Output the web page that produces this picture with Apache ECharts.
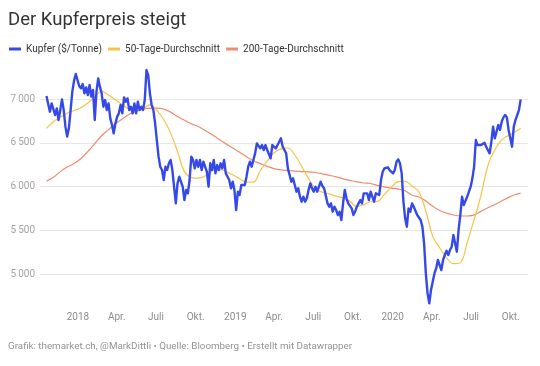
<!DOCTYPE html>
<html><head><meta charset="utf-8">
<script src="https://cdn.jsdelivr.net/npm/echarts@6/dist/echarts.min.js"></script>
<style>html,body{margin:0;padding:0;background:#fff}#c{width:540px;height:366px}</style>
</head><body><div id="c"></div>
<script>
const titleText = 'Der Kupferpreis steigt';
const footerText = 'Grafik: themarket.ch, @MarkDittli \u2022 Quelle: Bloomberg \u2022 Erstellt mit Datawrapper';
const seriesNames = ['Kupfer ($/Tonne)', '50-Tage-Durchschnitt', '200-Tage-Durchschnitt'];
const seriesColors = ['#3549e8', '#f5c444', '#f08a6e'];

// copper price readings, one every 4 days starting 2017-10-20
const firstDate = [2017, 9, 20];
const stepDays = 4;
const copper = [
7034, 7019, 6855, 6950, 6969, 6817, 6893, 6760, 6874, 6996,
6874, 6684, 6570, 6665, 6874, 7084, 7210, 7286, 7217, 7149,
7122, 7171, 7065, 7133, 7046, 7160, 7027, 7103, 6760, 7084,
7236, 7141, 7065, 6912, 6988, 6874, 6950, 6779, 6703, 6607,
6722, 6798, 6836, 6931, 6836, 7019, 6969, 7007, 6874, 6912,
6836, 6950, 6836, 6969, 6874, 6912, 6874, 6988, 7331, 7274,
7065, 6931, 6874, 6722, 6531, 6341, 6226, 6188, 6074,
6226, 6188, 6265, 6303, 6188, 5998, 5807, 6036, 6112, 6093,
5998, 5846, 5960, 5922, 6074, 6341, 6303, 6207, 6303, 6226,
6303, 6188, 6284, 6226, 6169, 5998, 6265, 6188, 6303, 6150,
6245, 6188, 6265, 6207, 6303, 6150, 6169, 6074, 5979, 6055,
5960, 5731, 5941, 5903, 6017, 6036, 6017, 6112, 6226, 6284,
6226, 6303, 6379, 6493, 6512, 6436, 6474, 6417, 6474, 6417,
6436, 6322, 6474, 6493, 6436, 6474, 6455, 6550, 6455, 6417,
6379, 6207, 6131, 6055, 6093, 6017, 5941, 5979, 5884, 5826,
5884, 5826, 5865, 5960, 6036, 5979, 5941, 5998, 5941, 5998,
6055, 6005, 5979, 5960, 5807, 5769, 5807, 5712, 5769, 5731,
5674, 5712, 5617, 5807, 5960, 5865, 5807, 5788, 5750, 5674,
5712, 5769, 5807, 5845, 5807, 5922, 5903, 5922, 5845, 5941,
5884, 5826, 5922, 5941, 5903, 6074, 6169, 6207, 6207, 6219,
6188, 6207, 6150, 6188, 6284, 6310, 6265, 6150, 5830,
5636, 5541, 5750, 5712, 5807, 5769, 5769, 5674, 5674, 5617,
5541, 5350, 5007, 4779, 4664, 4817, 4912, 5007, 5064, 5160,
5160, 5045, 5160, 5217, 5266, 5217, 5274, 5312, 5445, 5350,
5255, 5503, 5674, 5884, 5788, 5807, 5884, 5941, 5998, 6093,
6226, 6531, 6474, 6474, 6474, 6493, 6501, 6455, 6463, 6379,
6512, 6684, 6550, 6627, 6703, 6646, 6741, 6790, 6817, 6790,
6646, 6627, 6455, 6684, 6760, 6760, 6874, 6996
];

// moving averages, read at every 4th copper date plus the last one
const maEvery = 4;
const ma50 = [
6665, 6741, 6790, 6838, 6868, 6900, 6955, 7025, 7088, 7045,
6990, 6935, 6880, 6860, 6885, 6935, 6870, 6765, 6610, 6400,
6170, 6105, 6095, 6120, 6180, 6195, 6170, 6135, 6090, 6050,
6050, 6180, 6290, 6385, 6430, 6440, 6360, 6230, 6090, 5975,
5935, 5915, 5890, 5870, 5830, 5770, 5790, 5826, 5830, 5910,
5990, 6055, 6060, 6005, 5940, 5720, 5430, 5300, 5185, 5118,
5130, 5360, 5620, 5900, 6240, 6420, 6530, 6582, 6625, 6665
];
const ma200 = [
6060, 6105, 6170, 6222, 6262, 6320, 6400, 6490, 6580, 6650,
6720, 6772, 6825, 6860, 6885, 6893, 6895, 6885, 6850, 6800,
6758, 6718, 6685, 6640, 6595, 6540, 6490, 6440, 6392, 6340,
6295, 6262, 6230, 6205, 6190, 6182, 6175, 6170, 6168, 6160,
6145, 6128, 6110, 6088, 6070, 6052, 6040, 6034, 6012, 5995,
5982, 5970, 5950, 5900, 5880, 5835, 5775, 5726, 5695, 5674,
5663, 5663, 5676, 5716, 5757, 5795, 5835, 5876, 5908, 5924
];

const xTickDates = [[2018,0],[2018,3],[2018,6],[2018,9],[2019,0],[2019,3],[2019,6],[2019,9],[2020,0],[2020,3],[2020,6],[2020,9]];
const xTickLabels = ['2018','Apr.','Juli','Okt.','2019','Apr.','Juli','Okt.','2020','Apr.','Juli','Okt.'];
const xRange = [[2017, 9, 5], [2020, 10, 10]];
const yRange = [4500, 7500];
const yStep = 500;

const DAY = 86400000;
const t0 = Date.UTC(firstDate[0], firstDate[1], firstDate[2]);
const copperDates = copper.map((_, k) => t0 + k * stepDays * DAY);
const maIdx = ma50.map((_, j) => Math.min(j * maEvery, copper.length - 1));
const xTickValues = xTickDates.map(d => Date.UTC(d[0], d[1], 1));

const chart = echarts.init(document.getElementById('c'), null, {renderer: 'canvas'});
const font = 'Roboto';
chart.setOption({
  animation: false,
  backgroundColor: '#fff',
  textStyle: {fontFamily: font},
  title: [
    {text: titleText, left: 8, top: 11, padding: 0, textStyle: {fontSize: 18.5, fontWeight: 'normal', color: '#333', fontFamily: font}},
    {text: footerText, left: 8, top: 342, padding: 0, textStyle: {fontSize: 9.8, fontWeight: 'normal', color: '#939393', fontFamily: font}}
  ],
  legend: {
    left: 9, top: 44, padding: 0, icon: 'rect', itemWidth: 12, itemHeight: 3, itemGap: 6,
    textStyle: {fontSize: 10, color: '#333', fontFamily: font},
    data: seriesNames
  },
  grid: {left: 40, right: 12, top: 55.25, bottom: 48.25},
  xAxis: {
    type: 'value',
    min: Date.UTC(...xRange[0]), max: Date.UTC(...xRange[1]),
    axisLine: {show: false}, axisTick: {show: false}, splitLine: {show: false},
    axisLabel: {
      customValues: xTickValues,
      margin: -5,
      fontSize: 10, color: '#8c8c8c', fontFamily: font,
      formatter: v => { const i = xTickValues.indexOf(v); return i >= 0 ? xTickLabels[i] : ''; }
    }
  },
  yAxis: {
    type: 'value', min: yRange[0], max: yRange[1], interval: yStep,
    axisLine: {show: false}, axisTick: {show: false},
    splitLine: {show: true, showMinLine: false, showMaxLine: false, lineStyle: {color: '#e6e6e6', width: 1}},
    axisLabel: {
      showMinLabel: false, showMaxLabel: false, margin: 5,
      fontSize: 10, color: '#a3a3a3', fontFamily: font,
      formatter: v => Math.floor(v / 1000) + '\u2009' + String(v % 1000).padStart(3, '0')
    }
  },
  series: [
    {name: seriesNames[0], type: 'line', z: 4, showSymbol: false, symbol: 'none',
     data: copperDates.map((d, i) => [d, copper[i]]),
     itemStyle: {color: seriesColors[0]}, lineStyle: {color: seriesColors[0], width: 2.4, join: 'round'}},
    {name: seriesNames[1], type: 'line', z: 3, showSymbol: false, symbol: 'none', smooth: 0.4,
     data: maIdx.map((k, i) => [copperDates[k], ma50[i]]),
     itemStyle: {color: seriesColors[1]}, lineStyle: {color: seriesColors[1], width: 1.2}},
    {name: seriesNames[2], type: 'line', z: 2, showSymbol: false, symbol: 'none', smooth: 0.4,
     data: maIdx.map((k, i) => [copperDates[k], ma200[i]]),
     itemStyle: {color: seriesColors[2]}, lineStyle: {color: seriesColors[2], width: 1.2}}
  ]
});
</script></body></html>
